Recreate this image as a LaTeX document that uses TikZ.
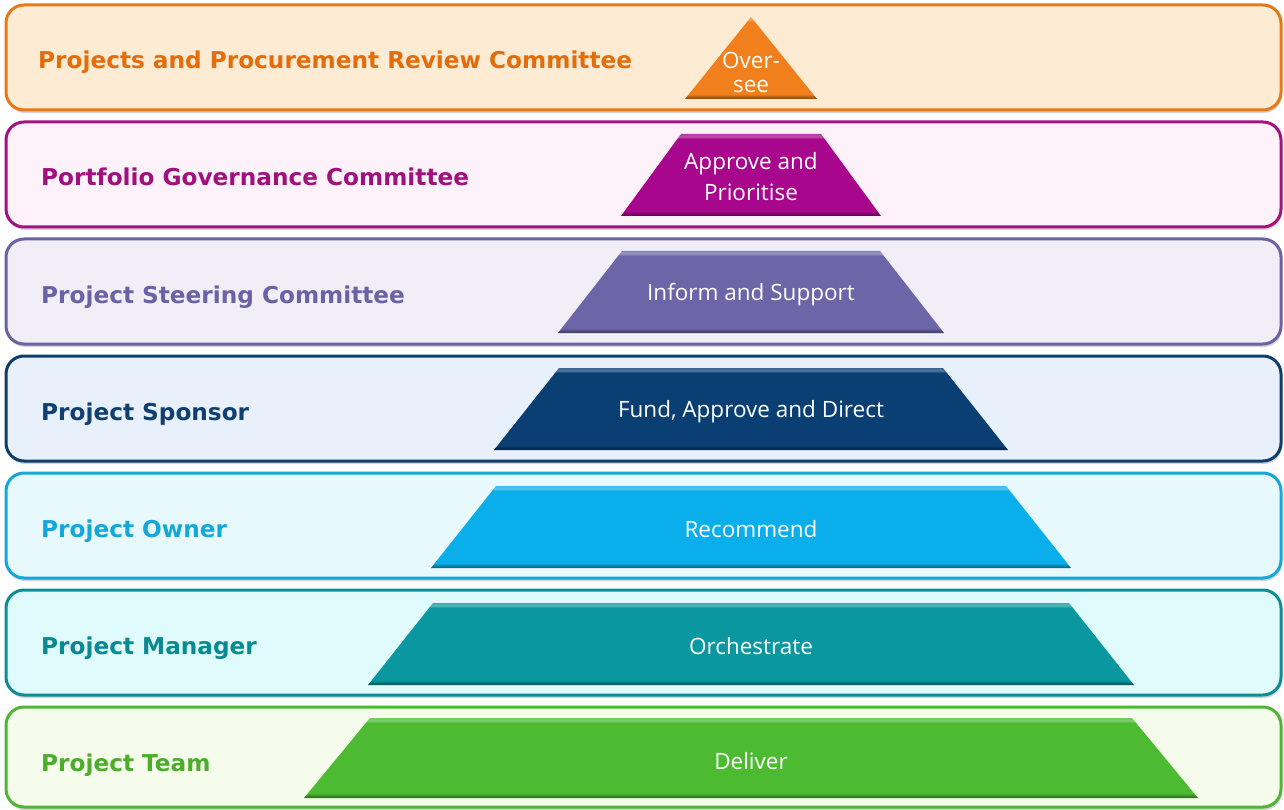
\documentclass[tikz,border=0pt]{standalone}
\usepackage{fontspec}
\setmainfont{Open Sans}
\newfontfamily\tagfont{DejaVu Sans}
\usetikzlibrary{shadows}

% line / background / label / block colours per level
\definecolor{ppcLine}{HTML}{E77817}
\definecolor{ppcBack}{HTML}{FDEBD4}
\definecolor{ppcText}{HTML}{E46C0A}
\definecolor{ppcBlock}{HTML}{F07F1C}
\definecolor{pgcLine}{HTML}{A3137F}
\definecolor{pgcBack}{HTML}{FDF1FA}
\definecolor{pgcText}{HTML}{A0107E}
\definecolor{pgcBlock}{HTML}{A8068C}
\definecolor{pscLine}{HTML}{6A62A4}
\definecolor{pscBack}{HTML}{F1EEF8}
\definecolor{pscText}{HTML}{6A62A6}
\definecolor{pscBlock}{HTML}{6C66A8}
\definecolor{sponLine}{HTML}{0F3D6C}
\definecolor{sponBack}{HTML}{E8F1FB}
\definecolor{sponText}{HTML}{103F70}
\definecolor{sponBlock}{HTML}{0A3F74}
\definecolor{ownLine}{HTML}{12A8DA}
\definecolor{ownBack}{HTML}{E8F9FD}
\definecolor{ownText}{HTML}{13A7DC}
\definecolor{ownBlock}{HTML}{0AAEEA}
\definecolor{mgrLine}{HTML}{0D8D96}
\definecolor{mgrBack}{HTML}{E0FBFC}
\definecolor{mgrText}{HTML}{088A92}
\definecolor{mgrBlock}{HTML}{0A979F}
\definecolor{teamLine}{HTML}{4FB535}
\definecolor{teamBack}{HTML}{F6FCEC}
\definecolor{teamText}{HTML}{4CAD2B}
\definecolor{teamBlock}{HTML}{4CBB32}

% flat face with a light top rim and a dark bottom rim
\colorlet{tcol}{black}
\pgfdeclareverticalshading[tcol]{bevel}{100bp}{%
  color(0bp)=(tcol!55!black); color(25bp)=(tcol!55!black);
  color(26.5bp)=(tcol!75!black); color(28bp)=(tcol);
  color(72bp)=(tcol); color(73.5bp)=(tcol!70!white);
  color(75bp)=(tcol!80!white); color(100bp)=(tcol!80!white)}

\begin{document}
\begin{tikzpicture}[x=1pt,y=-1pt,
    band/.style={draw=#1Line, fill=#1Back, line width=3pt, rounded corners=18pt,
      drop shadow={shadow xshift=1pt, shadow yshift=-3pt, opacity=.35}},
    tag/.style={anchor=base west, inner sep=0pt, text=#1Text,
      font=\tagfont\bfseries\fontsize{23.2}{28}\selectfont},
    block/.style={/utils/exec={\colorlet{tcol}{#1Block}}, shading=bevel},
    duty/.style={text=white, align=center, font=\fontsize{22.5}{31}\selectfont}]
    \useasboundingbox (0,0) rectangle (1284,810);

    % Projects and Procurement Review Committee
    \draw[band=ppc] (6,5) rectangle (1281,110);
    \path[block=ppc] (751,17) -- (817,99) -- (685,99) -- cycle;
    \node[tag=ppc] (ppcTag) at (38,69) {Projects and Procurement Review Committee};
    \node[duty, font=\fontsize{22.5}{24}\selectfont] (ppcDuty) at (751,72) {Over-\\see};

    % Portfolio Governance Committee
    \draw[band=pgc] (6,122) rectangle (1281,227);
    \path[block=pgc] (681,134) -- (821,134) -- (881,216) -- (621,216) -- cycle;
    \node[tag=pgc] (pgcTag) at (41,186) {Portfolio Governance Committee};
    \node[duty] (pgcDuty) at (751,177) {Approve and\\Prioritise};

    % Project Steering Committee
    \draw[band=psc] (6,239) rectangle (1281,344);
    \path[block=psc] (622,251) -- (880,251) -- (944,333) -- (558,333) -- cycle;
    \node[tag=psc] (pscTag) at (41,303) {Project Steering Committee};
    \node[duty] (pscDuty) at (751,295) {Inform and Support};

    % Project Sponsor
    \draw[band=spon] (6,356) rectangle (1281,461);
    \path[block=spon] (559,368) -- (943,368) -- (1008,450) -- (494,450) -- cycle;
    \node[tag=spon] (sponTag) at (41,420) {Project Sponsor};
    \node[duty] (sponDuty) at (751,412) {Fund, Approve and Direct};

    % Project Owner
    \draw[band=own] (6,473) rectangle (1281,578);
    \path[block=own] (496,486) -- (1006,486) -- (1071,568) -- (431,568) -- cycle;
    \node[tag=own] (ownTag) at (41,537) {Project Owner};
    \node[duty] (ownDuty) at (751,529) {Recommend};

    % Project Manager
    \draw[band=mgr] (6,590) rectangle (1281,695);
    \path[block=mgr] (433,603) -- (1069,603) -- (1134,685) -- (368,685) -- cycle;
    \node[tag=mgr] (mgrTag) at (41,654) {Project Manager};
    \node[duty] (mgrDuty) at (751,646) {Orchestrate};

    % Project Team
    \draw[band=team] (6,707) rectangle (1281,807);
    \path[block=team] (370,718) -- (1132,718) -- (1198,798) -- (304,798) -- cycle;
    \node[tag=team] (teamTag) at (41,771) {Project Team};
    \node[duty] (teamDuty) at (751,761) {Deliver};

\end{tikzpicture}
\end{document}
